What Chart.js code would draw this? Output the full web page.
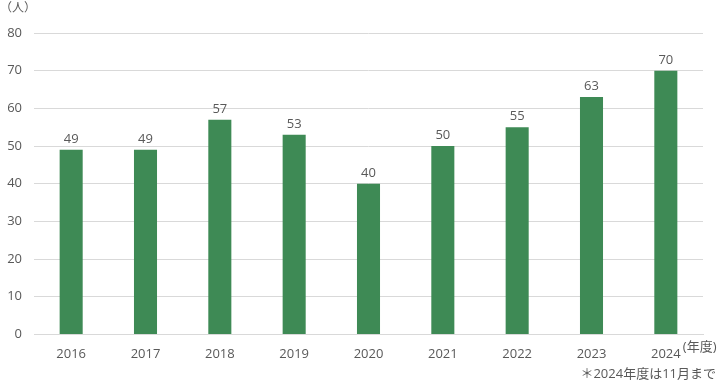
<!DOCTYPE html>
<html>
<head>
<meta charset="utf-8">
<script src="https://cdn.jsdelivr.net/npm/chart.js@4"></script>
<style>
  body { margin: 0; background: #fff; }
  #wrap { width: 720px; height: 384px; }
</style>
</head>
<body>
<div id="wrap"><canvas id="myChart"></canvas></div>
<script>
// years on the x-axis
var years = ["2016","2017","2018","2019","2020","2021","2022","2023","2024"];
// number of people per year
var people = [49,49,57,53,40,50,55,63,70];
var yTicks = [0,10,20,30,40,50,60,70,80];

var FONT = "'Open Sans', 'Noto Sans CJK JP', sans-serif";
var TXT = "#595959";

// value labels, unit text and footnote
var extras = {
  id: "extras",
  afterDatasetsDraw: function(chart) {
    var ctx = chart.ctx;
    var meta = chart.getDatasetMeta(0);
    ctx.save();
    ctx.font = "13px " + FONT;
    ctx.fillStyle = TXT;
    ctx.textAlign = "center";
    ctx.textBaseline = "bottom";
    meta.data.forEach(function(bar, i) {
      ctx.fillText(people[i], bar.x, bar.y - 4);
    });
    ctx.textAlign = "left";
    ctx.textBaseline = "middle";
    ctx.font = "12px " + FONT;
    ctx.fillText("（人）", 0, 9);
    // suffix after last x label
    var xs = chart.scales.x;
    var lastX = xs.getPixelForTick(years.length - 1);
    var labelY = xs.top + 4 + 9;
    ctx.font = "13px " + FONT;
    ctx.fillText("(年度)", lastX + 17, labelY);
    ctx.textAlign = "right";
    ctx.font = "13px " + FONT;
    ctx.fillText("＊2024年度は11月まで", 716, 374);
    ctx.restore();
  }
};

var ctx = document.getElementById("myChart");
var myChart = new Chart(ctx, {
  type: "bar",
  data: {
    labels: years,
    datasets: [{
      data: people,
      backgroundColor: "#3e8a55",
      categoryPercentage: 1,
      barPercentage: 0.31
    }]
  },
  options: {
    responsive: true,
    maintainAspectRatio: false,
    animation: false,
    layout: { padding: { top: 33, right: 17, bottom: 18, left: 0 } },
    plugins: { legend: { display: false }, tooltip: { enabled: false } },
    scales: {
      x: {
        grid: { display: false },
        border: { color: "#d9d9d9" },
        ticks: { color: TXT, font: { family: FONT, size: 13 }, padding: 4 }
      },
      y: {
        min: 0, max: 80,
        afterFit: function(s) { s.width = 34; },
        afterBuildTicks: function(s) { s.ticks = yTicks.map(function(v) { return { value: v }; }); },
        grid: { color: "#d9d9d9", drawTicks: false },
        border: { display: false },
        ticks: { color: TXT, font: { family: FONT, size: 13 }, padding: 12 }
      }
    }
  },
  plugins: [extras]
});
</script>
</body>
</html>
